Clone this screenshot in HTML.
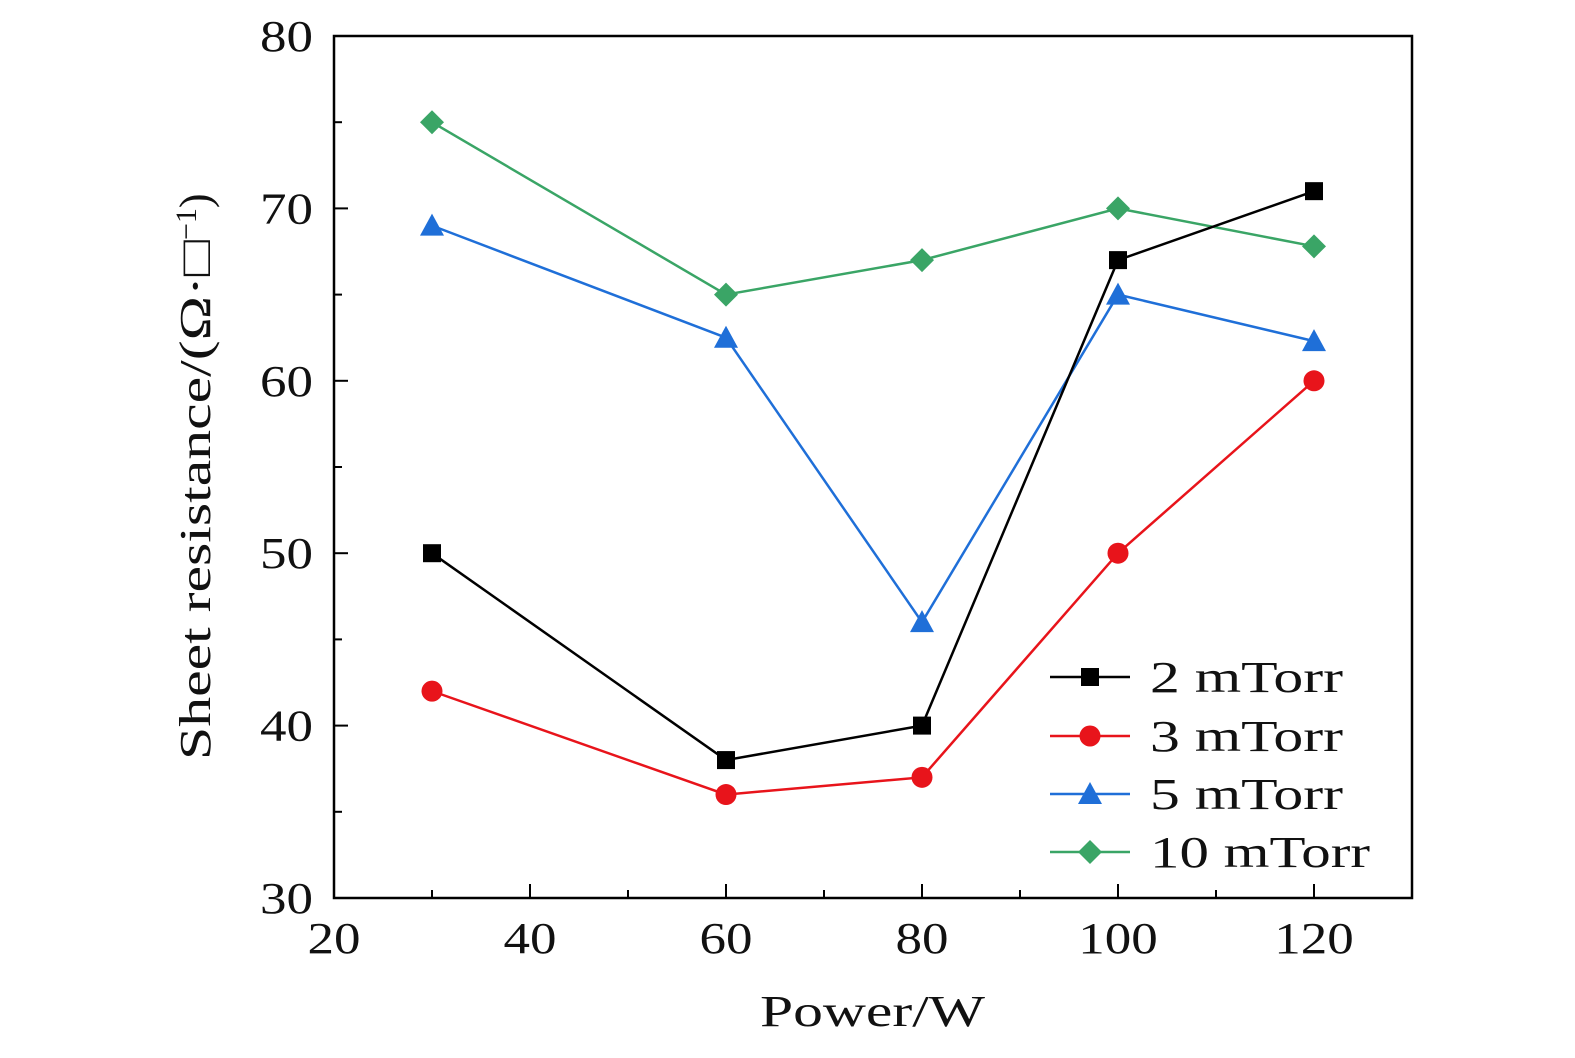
<!DOCTYPE html>
<html><head><meta charset="utf-8"><style>
body{margin:0;background:#fff}
svg text{font-family:"Liberation Serif","DejaVu Serif",serif;fill:#111}
</style></head><body>
<svg id="chart" width="1575" height="1053" viewBox="0 0 1575 1053" xmlns="http://www.w3.org/2000/svg"></svg>
<script>
const powers=[30,60,80,100,120];
const s2=[50,38,40,67,71];
const s3=[42,36,37,50,60];
const s5=[69,62.5,46,65,62.3];
const s10=[75,65,67,70,67.8];
const xTicks=[20,40,60,80,100,120];
const yTicks=[30,40,50,60,70,80];
const seriesNames=["2 mTorr","3 mTorr","5 mTorr","10 mTorr"];

const L=334,R=1412,T=36,B=898;
const X=v=>L+(v-20)*(1314-334)/100;
const Y=v=>B-(v-30)*(B-T)/50;
const svg=document.getElementById('chart');
const NS='http://www.w3.org/2000/svg';
function mk(tag,attrs,parent){const e=document.createElementNS(NS,tag);for(const k in attrs)e.setAttribute(k,attrs[k]);(parent||svg).appendChild(e);return e;}

const frame=mk('rect',{x:L,y:T,width:R-L,height:B-T,fill:'none',stroke:'#000','stroke-width':2.5});



for(let v=20;v<=130;v+=10){
  const major=xTicks.includes(v);
  const t=mk('line',{x1:X(v),x2:X(v),y1:B,y2:B-(major?14:8),stroke:'#000','stroke-width':2});
  
  
}
xTicks.forEach(v=>{
  const w=String(v).length*26.5;
  const t=mk('text',{x:X(v),y:953,'text-anchor':'middle','font-size':44,textLength:w,lengthAdjust:'spacingAndGlyphs'});t.textContent=v;
  
  
});
for(let v=30;v<=80;v+=5){
  const major=yTicks.includes(v);
  const t=mk('line',{x1:L,x2:L+(major?14:8),y1:Y(v),y2:Y(v),stroke:'#000','stroke-width':2});
  
  
}
yTicks.forEach(v=>{
  const t=mk('text',{x:313,y:Y(v)+15,'text-anchor':'end','font-size':44,textLength:53,lengthAdjust:'spacingAndGlyphs'});t.textContent=v;
  
  
});
const xt=mk('text',{x:760,y:1026,'font-size':44,textLength:225,lengthAdjust:'spacingAndGlyphs'});xt.textContent='Power/W';


const yt=mk('text',{x:0,y:0,'font-size':44,transform:'translate(210,760) rotate(-90)'});
yt.innerHTML='<tspan textLength="520" lengthAdjust="spacingAndGlyphs">Sheet resistance/(Ω·□</tspan><tspan dy="-14" font-size="30">−1</tspan><tspan dy="14">)</tspan>';



function marker(type,cx,cy,color,g){
  if(type==='square')return mk('rect',{x:cx-9,y:cy-9,width:18,height:18,fill:color},g);
  if(type==='circle')return mk('circle',{cx,cy,r:10.5,fill:color},g);
  if(type==='tri')return mk('polygon',{points:`${cx},${cy-12} ${cx-12},${cy+10} ${cx+12},${cy+10}`,fill:color},g);
  return mk('polygon',{points:`${cx},${cy-12} ${cx+12},${cy} ${cx},${cy+12} ${cx-12},${cy}`,fill:color},g);
}
const all=[[s2,'#000','square','series-2mtorr'],[s3,'#e8141b','circle','series-3mtorr'],[s5,'#1f6fd8','tri','series-5mtorr'],[s10,'#3aa566','diamond','series-10mtorr']];
[3,2,1,0].forEach(i=>{
  const [d,c,m,name]=all[i];
  const g=mk('g',{});
  
  
  const ln=mk('polyline',{points:d.map((v,j)=>X(powers[j])+','+Y(v)).join(' '),fill:'none',stroke:c,'stroke-width':2.5},g);
  
  
  d.forEach((v,j)=>{
    const p=marker(m,X(powers[j]),Y(v),c,g);
    
    
  });
});
const legendY=[677,736,794,852];
all.forEach(([d,c,m,name],i)=>{
  const g=mk('g',{});
  
  
  mk('line',{x1:1050,x2:1130,y1:legendY[i],y2:legendY[i],stroke:c,'stroke-width':2.5},g);
  marker(m,1090,legendY[i],c,g);
  const w=i===3?220:193;
  const t=mk('text',{x:1150,y:legendY[i]+15,'font-size':44,textLength:w,lengthAdjust:'spacingAndGlyphs'},g);t.textContent=seriesNames[i];
});
</script>
</body></html>
